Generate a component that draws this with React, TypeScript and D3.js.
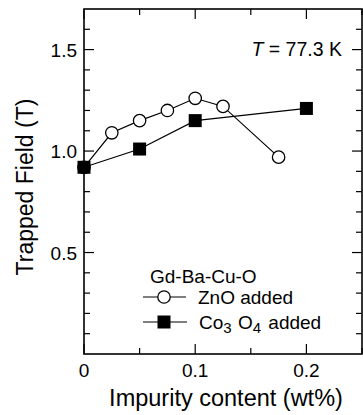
import { useEffect, useRef } from "react"
import * as d3 from "d3"

// impurity content (wt%)
const znoX = [0, 0.025, 0.05, 0.075, 0.1, 0.125, 0.175]
const znoY = [0.92, 1.09, 1.15, 1.2, 1.26, 1.22, 0.97]
const coX = [0, 0.05, 0.1, 0.2]
const coY = [0.92, 1.01, 1.15, 1.21]

const xTicks = [0, 0.1, 0.2]
const xMinor = [0, 0.05, 0.1, 0.15, 0.2, 0.25]
const yTicks = [0.5, 1.0, 1.5]
const yMinor = d3.range(1, 17).map((d) => d / 10)

export default function App() {
  const svgRef = useRef<SVGSVGElement | null>(null)

  useEffect(() => {
    if (!svgRef.current) return
    const svg = d3.select(svgRef.current)
    svg.selectAll("*").remove()

    const left = 84
    const right = 362
    const top = 9
    const bottom = 354

    const x = d3.scaleLinear().domain([0, 0.25]).range([left, right])
    const y = d3.scaleLinear().domain([0, 1.7]).range([bottom, top])
    const font = "Arial, 'Liberation Sans', sans-serif"

    // ticks, inward on all sides
    const g = svg.append("g").attr("stroke", "#000").attr("stroke-width", 1.2)
    yMinor.forEach((v) => {
      const major = yTicks.some((t) => Math.abs(t - v) < 1e-6)
      const len = major ? 10 : 6
      g.append("line").attr("x1", left).attr("x2", left + len).attr("y1", y(v)).attr("y2", y(v))
      g.append("line").attr("x1", right).attr("x2", right - len).attr("y1", y(v)).attr("y2", y(v))
    })
    xMinor.forEach((v) => {
      const major = xTicks.some((t) => Math.abs(t - v) < 1e-6)
      const len = major ? 10 : 6
      g.append("line").attr("x1", x(v)).attr("x2", x(v)).attr("y1", bottom).attr("y2", bottom - len)
      g.append("line").attr("x1", x(v)).attr("x2", x(v)).attr("y1", top).attr("y2", top + len)
    })

    // frame
    svg
      .append("rect")
      .attr("x", left)
      .attr("y", top)
      .attr("width", right - left)
      .attr("height", bottom - top)
      .attr("fill", "none")
      .attr("stroke", "#000")
      .attr("stroke-width", 1.6)

    // tick labels
    svg
      .selectAll(".yl")
      .data(yTicks)
      .enter()
      .append("text")
      .attr("x", left - 7)
      .attr("y", (d) => y(d) + 7)
      .attr("text-anchor", "end")
      .attr("font-family", font)
      .attr("font-size", 19)
      .text((d) => d.toFixed(1))
    svg
      .selectAll(".xl")
      .data(xTicks)
      .enter()
      .append("text")
      .attr("x", (d) => x(d))
      .attr("y", 377)
      .attr("text-anchor", "middle")
      .attr("font-family", font)
      .attr("font-size", 19)
      .text((d) => (d === 0 ? "0" : String(d)))

    // axis titles
    svg
      .append("text")
      .attr("x", 226)
      .attr("y", 406)
      .attr("text-anchor", "middle")
      .attr("font-family", font)
      .attr("font-size", 23.5)
      .text("Impurity content (wt%)")
    svg
      .append("text")
      .attr("transform", "translate(33,187) rotate(-90)")
      .attr("text-anchor", "middle")
      .attr("font-family", font)
      .attr("font-size", 23)
      .text("Trapped Field (T)")

    // temperature note
    const tt = svg
      .append("text")
      .attr("x", 342)
      .attr("y", 56)
      .attr("text-anchor", "end")
      .attr("font-family", font)
      .attr("font-size", 19.5)
    tt.append("tspan").attr("font-style", "italic").text("T")
    tt.append("tspan").text(" = 77.3 K")

    const line = d3
      .line<[number, number]>()
      .x((d) => x(d[0]))
      .y((d) => y(d[1]))

    const zno: [number, number][] = znoX.map((v, i) => [v, znoY[i]])
    const co: [number, number][] = coX.map((v, i) => [v, coY[i]])

    svg.append("path").attr("d", line(zno)).attr("fill", "none").attr("stroke", "#000").attr("stroke-width", 1.2)
    svg.append("path").attr("d", line(co)).attr("fill", "none").attr("stroke", "#000").attr("stroke-width", 1.2)

    svg
      .selectAll(".zn")
      .data(zno)
      .enter()
      .append("circle")
      .attr("cx", (d) => x(d[0]))
      .attr("cy", (d) => y(d[1]))
      .attr("r", 6.2)
      .attr("fill", "#fff")
      .attr("stroke", "#000")
      .attr("stroke-width", 1.3)

    const sq = 13
    svg
      .selectAll(".co")
      .data(co)
      .enter()
      .append("rect")
      .attr("x", (d) => x(d[0]) - sq / 2)
      .attr("y", (d) => y(d[1]) - sq / 2)
      .attr("width", sq)
      .attr("height", sq)
      .attr("fill", "#000")

    // legend
    const lg = svg.append("g").attr("font-family", font).attr("font-size", 19)
    lg.append("text").attr("x", 150).attr("y", 283).text("Gd-Ba-Cu-O")
    lg.append("line").attr("x1", 143).attr("x2", 186).attr("y1", 297).attr("y2", 297).attr("stroke", "#000").attr("stroke-width", 1.2)
    lg.append("circle").attr("cx", 164).attr("cy", 297).attr("r", 6.2).attr("fill", "#fff").attr("stroke", "#000").attr("stroke-width", 1.3)
    lg.append("text").attr("x", 198).attr("y", 304).text("ZnO added")
    lg.append("line").attr("x1", 143).attr("x2", 187).attr("y1", 322).attr("y2", 322).attr("stroke", "#000").attr("stroke-width", 1.2)
    lg.append("rect").attr("x", 164 - sq / 2).attr("y", 322 - sq / 2).attr("width", sq).attr("height", sq).attr("fill", "#000")
    const co3 = lg.append("text").attr("x", 199).attr("y", 329)
    co3.append("tspan").text("Co")
    co3.append("tspan").attr("font-size", 15).attr("dy", 4).text("3")
    co3.append("tspan").attr("dy", -4).attr("dx", 1).text(" O")
    co3.append("tspan").attr("font-size", 15).attr("dy", 4).text("4")
    co3.append("tspan").attr("dy", -4).attr("dx", 2).text(" added")
  }, [])

  return (
    <div style={{ position: "absolute", left: 0, top: 0 }}>
      <svg ref={svgRef} width={363} height={415} style={{ display: "block", background: "#fff" }}></svg>
    </div>
  )
}
